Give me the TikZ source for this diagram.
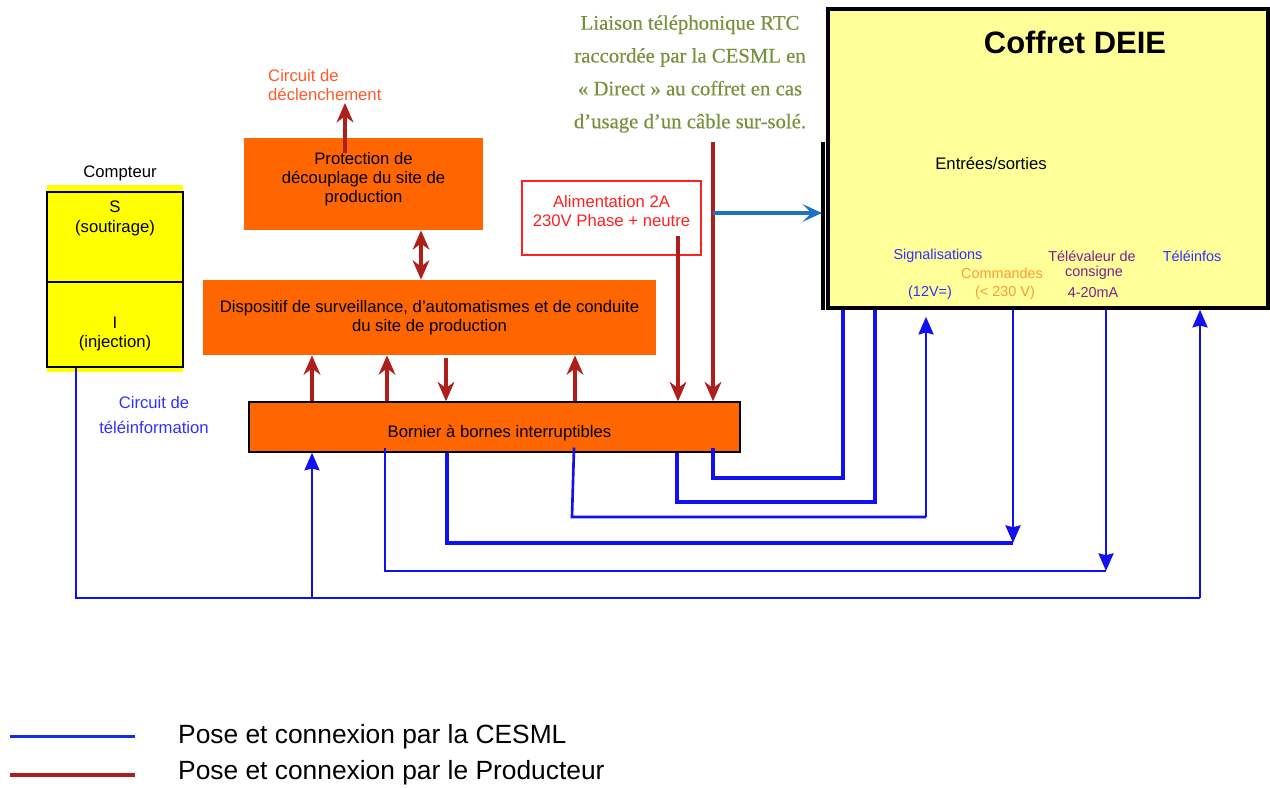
\documentclass[tikz,border=0pt]{standalone}
\usepackage{fontspec}
\setmainfont{Liberation Sans}
\newfontfamily\greenserif[FakeBold=0.4]{Liberation Serif}
\usetikzlibrary{arrows.meta,calc}
\definecolor{orbox}{HTML}{FF6600}
\definecolor{prodred}{HTML}{AE1E1A}
\definecolor{cesml}{HTML}{1010F0}
\definecolor{legblue}{HTML}{1030E0}
\definecolor{txtblue}{HTML}{3030FF}
\definecolor{greentxt}{HTML}{76923C}
\definecolor{deie}{HTML}{FFFF99}
\definecolor{compy}{HTML}{FFFF00}
\definecolor{alimred}{HTML}{FF2020}
\definecolor{declred}{HTML}{FF5A28}
\definecolor{cmdorange}{HTML}{FF9933}
\definecolor{purp}{HTML}{7F1F8F}
\definecolor{linkblue}{HTML}{2070C4}
\begin{document}
\begin{tikzpicture}[x=0.02cm,y=-0.02cm,
  font=\fontsize{9.5}{10.8}\selectfont,
  orangebox/.style={fill=orbox, inner sep=0pt, align=center},
  compbox/.style={draw=black, line width=1.5pt, fill=compy, inner sep=0pt, minimum width=2.72cm},
  smalllab/.style={font=\fontsize{8.2}{9.5}\selectfont},
  prodtip/.tip={Stealth[length=11pt,width=9.5pt,inset=3.5pt]},
  prodarrow/.style={draw=prodred, line width=2pt, -prodtip},
  prodboth/.style={draw=prodred, line width=2pt, prodtip-prodtip},
  wire/.style={draw=cesml, line width=1.5pt},
  wirearrow/.style={wire, -{Stealth[length=10pt,width=8.5pt,inset=1pt]}},
]
\useasboundingbox (0,0) rectangle (1270,787);

% Compteur
\node (comptlab) at (120,173) {Compteur};
\fill[compy] (47,185) rectangle (183,372);
\node[compbox, minimum height=1.8cm] (compS) at (115,237) {};
\node[compbox, minimum height=1.7cm] (compI) at (115,324.5) {};
\node[align=center, font=\fontsize{9.5}{11.3}\selectfont] (compStxt) at (115,218) {S\\(soutirage)};
\node[align=center, font=\fontsize{9.5}{11.3}\selectfont] (compItxt) at (115,334) {I\\(injection)};
\node[text=txtblue, align=center, font=\fontsize{9.5}{14.7}\selectfont] (teleinfo) at (154,415) {Circuit de\\téléinformation};

% Orange boxes
\node[orangebox, text depth=7.5pt, minimum width=4.78cm, minimum height=1.84cm] (prot) at (363.5,184) {Protection de\\découplage du site de\\production};
\node[orangebox, minimum width=9.06cm, minimum height=1.5cm] (disp) at (429.5,317.5) {Dispositif de surveillance, d’automatismes et de conduite\\du site de production};
\node[orangebox, draw=black, line width=0.8pt, text height=14pt, text depth=2pt, minimum width=9.82cm, minimum height=1cm] (born) at (494.5,427) {\hspace*{0.2cm}Bornier à bornes interruptibles};
\node[draw=alimred, line width=0.8pt, text=alimred, align=center, inner sep=0pt, text depth=8pt, minimum width=3.58cm, minimum height=1.48cm, font=\fontsize{9.5}{11.3}\selectfont] (alim) at (611.5,218) {Alimentation 2A\\230V Phase + neutre};

\node[text=declred, align=left, anchor=west] (decltxt) at (262,85) {Circuit de\\déclenchement};

\node[text=greentxt, align=center, font=\greenserif\fontsize{11.8}{18.7}\selectfont] (rtc) at (690,74) {Liaison téléphonique RTC\\raccordée par la CESML en\\« Direct » au coffret en cas\\d’usage d’un câble sur-solé.};

% Coffret DEIE
\draw[line width=2.8pt] (823,142) -- (823,310);
\node[draw=black, line width=2pt, fill=deie, inner sep=0pt, minimum width=8.8cm, minimum height=5.98cm] (deie) at (1048,158.5) {};
\node[font=\bfseries\fontsize{17.6}{20}\selectfont] (title) at (1075,42) {Coffret DEIE};
\node (es) at (991,163) {Entrées/sorties};
\node[smalllab, text=txtblue] (sig) at (938,256) {Signalisations};
\node[smalllab, text=cmdorange] (cmd) at (1002,273) {Commandes};
\node[smalllab, text=txtblue] (sigv) at (930,293) {(12V=)};
\node[smalllab, text=cmdorange] (cmdv) at (1005,293) {(< 230 V)};
\node[smalllab, text=purp] (tv1) at (1092,256) {Télévaleur de};
\node[smalllab, text=purp] (tv2) at (1094,273) {consigne};
\node[smalllab, text=purp] (tv3) at (1093,293) {4-20mA};
\node[smalllab, text=txtblue] (tinf) at (1192,256) {Téléinfos};

% Producer connections
\coordinate (decl) at (345,103);
\coordinate (rtcend) at (713,142);
\coordinate (rtcbranch) at (713,213);
\draw[prodarrow] ($(prot.north -| 345,0)+(0,15)$) -- (decl);
\draw[prodboth] (prot.south -| 421,0) -- (disp.north -| 421,0);
\draw[prodarrow] (born.north -| 312,0) -- (disp.south -| 312,0);
\draw[prodarrow] (born.north -| 387,0) -- (disp.south -| 387,0);
\draw[prodarrow] ($(disp.south -| 446,0)+(0,3)$) -- (born.north -| 446,0);
\draw[prodarrow] (born.north -| 575,0) -- (disp.south -| 575,0);
\draw[prodarrow] ($(alim.south -| 678,0)+(0,-20)$) -- (born.north -| 678,0);
\draw[prodarrow] (rtcend) -- (born.north -| 713,0);
\draw[linkblue, line width=2pt, -{Stealth[length=11pt,width=10pt,inset=5pt]}] (rtcbranch) -- (822,213);

% CESML wiring
\coordinate (c4) at (1013,543);
\coordinate (c5) at (1106,571);
\coordinate (c6r) at (1200,598);
\coordinate (j312) at (312,598);
\draw[wire, line width=1.8pt] ($(born.south -| 713,0)+(0,-5)$) -- (713,478) -| (deie.south -| 843,0);
\draw[wire, line width=2.1pt] (born.south -| 677,0) -- (677,502) -| (deie.south -| 875,0);
\draw[wire] ($(born.south -| 574,0)+(0,-5)$) -- (572,517) -- (926,517);
\draw[wirearrow, shorten >=4pt] (926,517) -- (deie.south -| 926,0);
\draw[wirearrow] (deie.south -| 1013,0) -- (c4);
\draw[wire, line width=1.9pt] (born.south -| 447,0) |- (c4);
\draw[wire, line width=2.8pt] (447,543) -- (c4);
\draw[wirearrow] (deie.south -| 1106,0) -- (c5);
\draw[wire] ($(born.south -| 385,0)+(0,-5)$) |- (c5);
\draw[wire, line width=1.6pt] (compI.south -| 76,0) |- (c6r);
\draw[wirearrow] (c6r) -- (deie.south -| 1200,0);
\draw[wirearrow] (j312) -- (born.south -| 312,0);

% Legend
\draw[legblue, line width=1.7pt] (10,736) -- (135,736);
\draw[prodred, line width=2.8pt] (10,775) -- (135,775);
\node[anchor=west, font=\fontsize{15}{18}\selectfont] (leg1) at (172,737) {Pose et connexion par la CESML};
\node[anchor=west, font=\fontsize{15}{18}\selectfont] (leg2) at (172,773) {Pose et connexion par le Producteur};
\end{tikzpicture}
\end{document}
